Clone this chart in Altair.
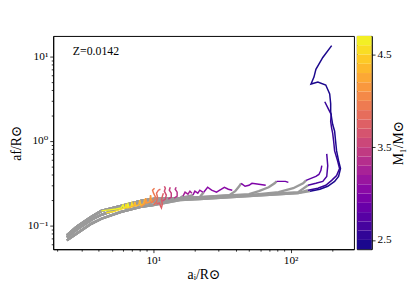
import altair as alt
import pandas as pd

FONT = "Liberation Serif, DejaVu Serif, Times New Roman, serif"

# grey band paths (a_i, a_f) shared by the tracks before they turn coloured
band_x = [2.35, 2.776, 3.554, 4.193, 5.834, 8.112, 10.05, 15.69, 21.83, 49.77, 113.5]
band_u = [0.0765, 0.0974, 0.1273, 0.1494, 0.1708, 0.1953, 0.2061, 0.2117, 0.2174, 0.2356, 0.2553]
band_m = [0.0725, 0.0898, 0.1174, 0.1342, 0.1619, 0.1803, 0.1901, 0.2061, 0.2117, 0.2293, 0.2485]
band_l = [0.0669, 0.0807, 0.1055, 0.1206, 0.1455, 0.1663, 0.1754, 0.2006, 0.2061, 0.2233, 0.2419]

# tracks: M1, which band path the grey part follows, extra grey points, coloured part
track_m1 = [4.68, 4.55, 4.35, 4.15, 3.95, 3.85, 3.75, 3.60, 3.48, 3.38,
            3.22, 3.12, 3.05, 2.98, 2.90, 2.78, 2.68, 2.58, 2.45]
track_band = ["u", "m", "m", "l", "m", "l", "l", "m", "u", "u",
              "u", "u", "u", "u", "u", "m", "m", "l", "l"]
grey_x = [[], [], [], [], [], [], [], [], [], [],
          [], [], [], [35.79, 39.51, 42.22], [58.70, 69.21, 76.42], [81.65, 104.5, 123.3], [], [], []]
grey_y = [[], [], [], [], [], [], [], [], [], [],
          [], [], [], [0.2293, 0.2553, 0.2918], [0.2553, 0.2841, 0.3162], [0.2485, 0.2766, 0.3162], [], [], []]
col_x = [
    [4.193, 4.784, 5.370, 5.834, 6.029, 6.129, 6.439, 6.546, 6.655],
    [4.553, 5.110, 5.642, 6.231, 6.333, 6.439, 6.878, 6.993, 7.107, 7.226],
    [6.655, 7.226, 7.346, 7.467, 7.846, 7.977, 8.112, 8.521, 8.663, 8.807],
    [8.112, 8.663, 8.807, 8.954, 9.408, 9.564, 9.723, 9.885],
    [9.564, 10.05, 10.39, 10.05, 9.885, 10.22],
    [10.05, 10.56, 10.74, 10.56, 10.91, 11.28],
    [10.56, 11.10, 11.28, 11.47, 11.66, 11.47, 11.66, 11.85],
    [11.66, 12.25, 12.45, 12.05, 12.25, 12.05],
    [12.87, 13.53, 13.53, 13.09, 13.30],
    [14.21, 14.93, 14.93, 14.45, 14.69],
    [16.48, 17.04, 17.90, 18.50, 19.11],
    [19.45, 20.09, 21.11, 21.83, 22.93],
    [23.31, 24.89, 26.60, 28.88, 31.36, 32.96, 35.20, 37.60],
    [43.63, 46.61, 49.77, 52.30, 58.70, 65.89],
    [79.00, 85.77, 91.62, 96.27],
    [129.6, 140.7, 152.8, 160.6, 166.0, 168.7],
    [133.9, 152.8, 171.5, 183.2, 186.3, 183.2],
    [133.9, 157.9, 180.3, 199.0, 216.1, 227.1, 219.7, 209.1, 205.6,
     202.3, 199.0, 195.7, 197.3, 189.4, 177.3],
    [138.4, 163.3, 186.3, 209.1, 223.4, 230.8, 223.4, 216.1, 212.5, 209.1, 202.3,
     199.0, 195.7, 195.7, 192.5, 180.3, 157.9, 140.7, 147.9, 152.8, 171.5, 199.0],
]
col_y = [
    [0.1494, 0.1535, 0.1576, 0.1619, 0.1754, 0.1619, 0.1663, 0.1803, 0.1663],
    [0.1416, 0.1455, 0.1535, 0.1619, 0.1803, 0.1619, 0.1663, 0.1851, 0.1708, 0.1754],
    [0.1619, 0.1708, 0.1901, 0.1708, 0.1754, 0.2006, 0.1754, 0.1803, 0.2061, 0.1851],
    [0.1663, 0.1803, 0.2117, 0.1851, 0.1901, 0.2293, 0.1953, 0.1851],
    [0.1851, 0.1953, 0.2174, 0.2419, 0.2622, 0.2766],
    [0.1754, 0.1901, 0.2174, 0.2419, 0.2622, 0.2693],
    [0.1803, 0.1851, 0.1708, 0.1619, 0.1803, 0.2006, 0.2233, 0.2419],
    [0.1953, 0.2061, 0.2293, 0.2553, 0.2766, 0.2918],
    [0.2061, 0.2174, 0.2419, 0.2622, 0.2841],
    [0.2117, 0.2233, 0.2485, 0.2693, 0.2841],
    [0.2233, 0.2485, 0.2356, 0.2553, 0.2419],
    [0.2293, 0.2553, 0.2419, 0.2622, 0.2485],
    [0.2485, 0.2841, 0.2622, 0.2485, 0.2693, 0.2841, 0.2693, 0.2622],
    [0.3162, 0.2918, 0.2997, 0.3162, 0.3078, 0.2997],
    [0.3336, 0.3336, 0.3336, 0.3248],
    [0.3426, 0.3615, 0.3814, 0.4024, 0.4478, 0.5120],
    [0.2997, 0.3162, 0.3336, 0.3814, 0.5120, 0.7063],
    [0.2622, 0.2766, 0.2997, 0.3426, 0.3917, 0.4725, 0.5854, 0.7651, 1.0,
     1.239, 1.416, 1.708, 2.061, 2.356, 2.918],
    [0.2553, 0.2693, 0.2918, 0.3336, 0.3814, 0.4725, 0.5854, 0.7651, 1.0, 1.307, 1.577,
     1.851, 2.233, 2.766, 3.615, 4.600, 4.985, 4.726, 5.700, 7.062, 9.736, 13.43],
]

label_x = [2.6]
label_y = [11.7]
label_text = ["Z=0.0142"]

cb_lo = [round(2.4 + 0.1 * i, 2) for i in range(23)]
cb_ticks = [2.5, 3.5, 4.5]
x_ticks = [2, 3, 4, 5, 6, 7, 8, 9, 10, 20, 30, 40, 50, 60, 70, 80, 90, 100, 200]
y_ticks = [0.06, 0.07, 0.08, 0.09, 0.1, 0.2, 0.3, 0.4, 0.5, 0.6, 0.7, 0.8, 0.9,
           1, 2, 3, 4, 5, 6, 7, 8, 9, 10]

bands = {"u": band_u, "m": band_m, "l": band_l}
grey_rows, col_rows = [], []
for i, m1 in enumerate(track_m1):
    first_x = grey_x[i][0] if grey_x[i] else col_x[i][0]
    pts = [(bx, by) for bx, by in zip(band_x, bands[track_band[i]]) if bx < first_x]
    pts += list(zip(grey_x[i], grey_y[i]))
    pts.append((col_x[i][0], col_y[i][0]))
    for k, (px, py) in enumerate(pts):
        grey_rows.append({"id": f"g{i}", "o": k, "x": px, "y": py})
    for k, (px, py) in enumerate(zip(col_x[i], col_y[i])):
        col_rows.append({"id": f"c{i}", "o": k, "x": px, "y": py, "m1": m1})

grey_df = pd.DataFrame(grey_rows)
col_df = pd.DataFrame(col_rows)
lab_df = pd.DataFrame({"x": label_x, "y": label_y, "t": label_text})
cb_df = pd.DataFrame({"lo": cb_lo, "hi": [v + 0.1 for v in cb_lo], "mid": [v + 0.05 for v in cb_lo]})

color_scale = alt.Scale(scheme="plasma", domain=[2.4, 4.7])

x_enc = alt.X("x:Q", scale=alt.Scale(type="log", domain=[1.87, 289], nice=False),
              axis=alt.Axis(values=x_ticks, title="aᵢ/R⊙", labelOverlap=False,
                            labelExpr="datum.value == 10 ? '10¹' : datum.value == 100 ? '10²' : ''",
                            tickSize={"condition": {"test": "datum.value == 10 || datum.value == 100", "value": 3.5}, "value": 2},
                            titlePadding=2))
y_enc = alt.Y("y:Q", scale=alt.Scale(type="log", domain=[0.0526, 17.5], nice=False),
              axis=alt.Axis(values=y_ticks, title="af/R⊙", labelOverlap=False,
                            labelExpr="datum.value == 10 ? '10¹' : datum.value == 1 ? '10⁰' : datum.value == 0.1 ? '10⁻¹' : ''",
                            tickSize={"condition": {"test": "datum.value == 10 || datum.value == 1 || datum.value == 0.1", "value": 3.5}, "value": 2},
                            titlePadding=4))

grey = alt.Chart(grey_df).mark_line(color="#9a9a9a", strokeWidth=2.4).encode(
    x=x_enc, y=y_enc, detail="id:N", order="o:Q")
col = alt.Chart(col_df).mark_line(strokeWidth=1.5).encode(
    x="x:Q", y="y:Q", detail="id:N", order="o:Q",
    color=alt.Color("m1:Q", scale=color_scale, legend=None))
txt = alt.Chart(lab_df).mark_text(align="left", baseline="middle", font=FONT, fontSize=12).encode(
    x="x:Q", y="y:Q", text="t:N")

main = alt.layer(grey, col, txt).properties(width=306, height=217)

cb = alt.Chart(cb_df).mark_rect().encode(
    y=alt.Y("lo:Q", scale=alt.Scale(domain=[2.4, 4.7], nice=False, zero=False),
            axis=alt.Axis(orient="right", values=cb_ticks, format=".1f", title="M₁/M⊙",
                          titleAngle=270, titleBaseline="top", titlePadding=1, tickSize=3.5)),
    y2="hi:Q",
    color=alt.Color("mid:Q", scale=color_scale, legend=None),
).properties(width=15, height=217)

chart = alt.hconcat(main, cb, spacing=1).properties(
    padding={"top": 25, "left": 0, "right": 0, "bottom": 0}
).configure_view(stroke="black", strokeWidth=1).configure_axis(
    grid=False, domainColor="black", tickColor="black", labelColor="black", titleColor="black",
    labelFont=FONT, titleFont=FONT, labelFontSize=11.5, titleFontSize=14, titleFontWeight="normal",
    labelPadding=2, domainWidth=1, tickWidth=0.8
)

chart.save("out.html", embed_options={"renderer": "svg", "actions": False})
